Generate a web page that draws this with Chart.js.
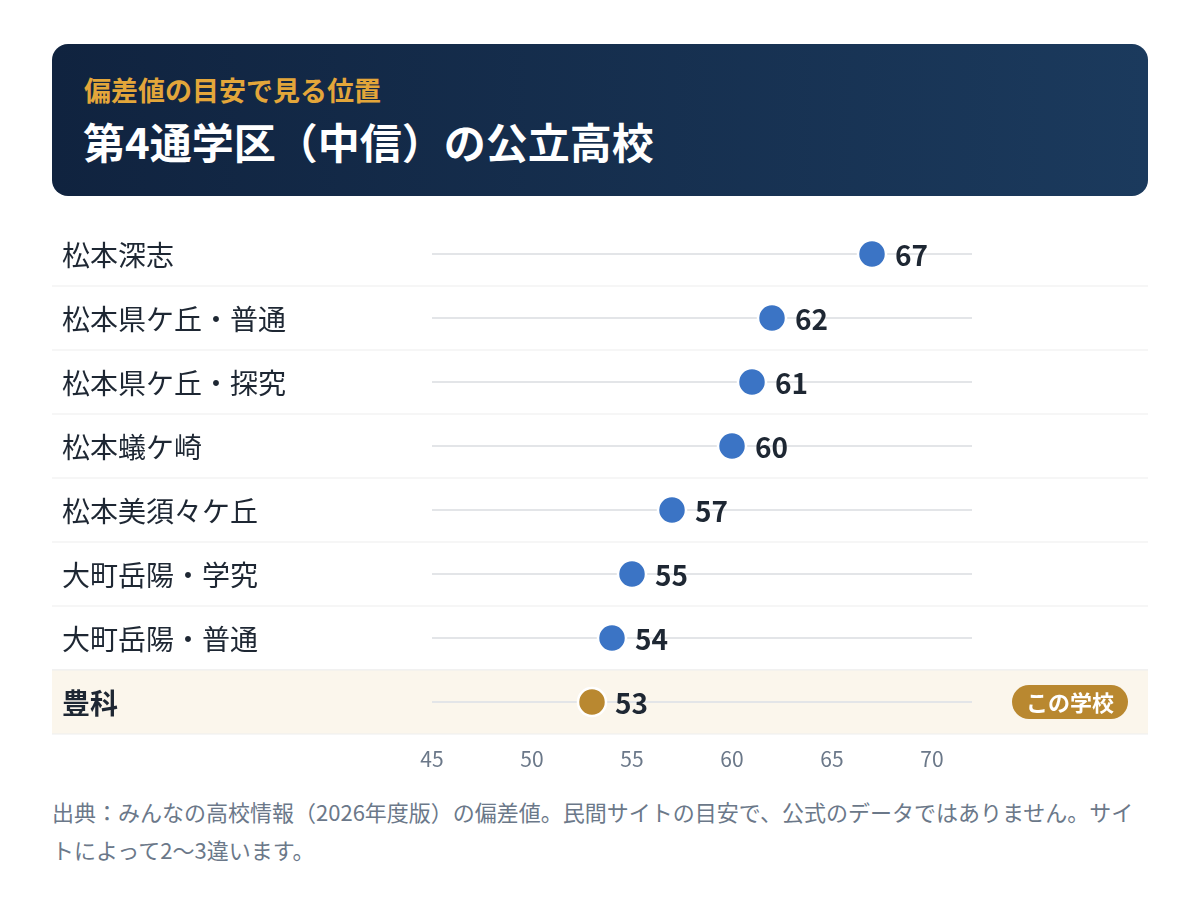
<!DOCTYPE html>
<html lang="ja">
<head>
<meta charset="utf-8">
<script src="https://cdn.jsdelivr.net/npm/chart.js@4"></script>
<style>
  body { margin: 0; background: #fff; font-family: "Noto Sans CJK JP", "Noto Sans", sans-serif; }
  #page { position: relative; width: 1200px; height: 900px; }
  #head {
    position: absolute; left: 52px; top: 44px; width: 1096px; height: 152px;
    border-radius: 16px;
    background: linear-gradient(90deg, #10233f 0%, #1b3a5d 100%);
  }
  #head .sub { position: absolute; left: 32px; top: 32px; color: #e3a63a; font-size: 27px; line-height: 1; font-weight: 700; white-space: nowrap; }
  #head .ttl { position: absolute; left: 31px; top: 76px; color: #fff; font-size: 42px; line-height: 1; font-weight: 700; white-space: nowrap; }
  #wrap { position: absolute; left: 52px; top: 222px; width: 1096px; height: 560px; }
  #note { position: absolute; left: 52px; top: 792px; width: 1096px; color: #6b7889; font-size: 22px; line-height: 38px; }
</style>
</head>
<body>
<div id="page">
  <div id="head">
    <div class="sub">偏差値の目安で見る位置</div>
    <div class="ttl">第4通学区（中信）の公立高校</div>
  </div>
  <div id="wrap"><canvas id="chart"></canvas></div>
  <div id="note">出典：みんなの高校情報（2026年度版）の偏差値。民間サイトの目安で、公式のデータではありません。サイトによって2〜3違います。</div>
</div>
<script>
// 学校と偏差値
var schools = ['松本深志', '松本県ケ丘・普通', '松本県ケ丘・探究', '松本蟻ケ崎', '松本美須々ケ丘', '大町岳陽・学究', '大町岳陽・普通', '豊科'];
var scores = [67, 62, 61, 60, 57, 55, 54, 53];
var xTicks = [45, 50, 55, 60, 65, 70];
var xMin = 45, xMax = 72;
var thisSchool = '豊科';
var badgeText = 'この学校';

var FONT = '"Noto Sans CJK JP", "Noto Sans", sans-serif';
var BLUE = '#3b74c5', GOLD = '#b98830';

var rowPlugin = {
    id: 'rows',
    beforeDraw: function(chart) {
        var ctx = chart.ctx, x = chart.scales.x, y = chart.scales.y;
        var w = chart.width;
        var band = (y.getPixelForValue(1) - y.getPixelForValue(0));
        ctx.save();
        for (var i = 0; i < schools.length; i++) {
            var cy = y.getPixelForValue(i);
            var top = cy - band / 2, bot = cy + band / 2;
            if (schools[i] == thisSchool) {
                ctx.fillStyle = '#fbf6ec';
                ctx.fillRect(0, top, w, band);
                ctx.fillStyle = '#eeeeee';
                ctx.fillRect(0, top - 0.5, w, 1);
            }
            ctx.fillStyle = '#eeeeee';
            ctx.fillRect(0, bot - 0.5, w, 1);
            // track
            ctx.strokeStyle = '#e3e5e8';
            ctx.lineWidth = 2;
            ctx.beginPath();
            ctx.moveTo(x.getPixelForValue(xMin), cy);
            ctx.lineTo(x.getPixelForValue(xMax), cy);
            ctx.stroke();
            // school name
            var mine = schools[i] == thisSchool;
            ctx.font = (mine ? '700 ' : '400 ') + '28px ' + FONT;
            ctx.fillStyle = '#1e2733';
            ctx.textAlign = 'left';
            ctx.textBaseline = 'middle';
            ctx.fillText(schools[i], 10, cy + 1);
        }
        ctx.restore();
    },
    afterDatasetsDraw: function(chart) {
        var ctx = chart.ctx, x = chart.scales.x, y = chart.scales.y;
        ctx.save();
        ctx.textBaseline = 'middle';
        for (var i = 0; i < schools.length; i++) {
            var cy = y.getPixelForValue(i);
            var px = x.getPixelForValue(scores[i]);
            ctx.font = '700 28px ' + FONT;
            ctx.fillStyle = '#1e2733';
            ctx.textAlign = 'left';
            ctx.fillText(String(scores[i]), px + 23, cy + 1);
            if (schools[i] == thisSchool) {
                // badge
                var bw = 116, bh = 34, bx = chart.width - 20 - bw, by = cy - bh / 2;
                ctx.fillStyle = GOLD;
                ctx.beginPath();
                ctx.roundRect(bx, by, bw, bh, bh / 2);
                ctx.fill();
                ctx.fillStyle = '#fff';
                ctx.font = '700 22px ' + FONT;
                ctx.textAlign = 'center';
                ctx.fillText(badgeText, bx + bw / 2, cy + 1);
            }
        }
        ctx.restore();
    }
};

new Chart(document.getElementById('chart'), {
    type: 'scatter',
    data: {
        datasets: [{
            data: schools.map(function(s, i) { return { x: scores[i], y: s }; }),
            pointRadius: 14,
            pointHoverRadius: 14,
            pointBorderWidth: 2.5,
            pointBorderColor: '#ffffff',
            pointBackgroundColor: schools.map(function(s) { return s == thisSchool ? GOLD : BLUE; }),
            clip: false
        }]
    },
    options: {
        responsive: true,
        maintainAspectRatio: false,
        animation: false,
        layout: { autoPadding: false, padding: { left: 10, right: 176, top: 0, bottom: 0 } },
        plugins: { legend: { display: false }, tooltip: { enabled: false } },
        scales: {
            x: {
                type: 'linear', min: xMin, max: xMax,
                afterBuildTicks: function(scale) {
                    scale.ticks = xTicks.map(function(v) { return { value: v }; });
                },
                grid: { display: false, drawTicks: false },
                border: { display: false },
                ticks: { color: '#6b7889', font: { family: FONT, size: 21 }, padding: 12 },
                afterFit: function(scale) { scale.height = 48; }
            },
            y: {
                type: 'category', labels: schools, offset: true,
                grid: { display: false, drawTicks: false },
                border: { display: false },
                ticks: { display: false },
                afterFit: function(scale) { scale.width = 370; }
            }
        }
    },
    plugins: [rowPlugin]
});
</script>
</body>
</html>
